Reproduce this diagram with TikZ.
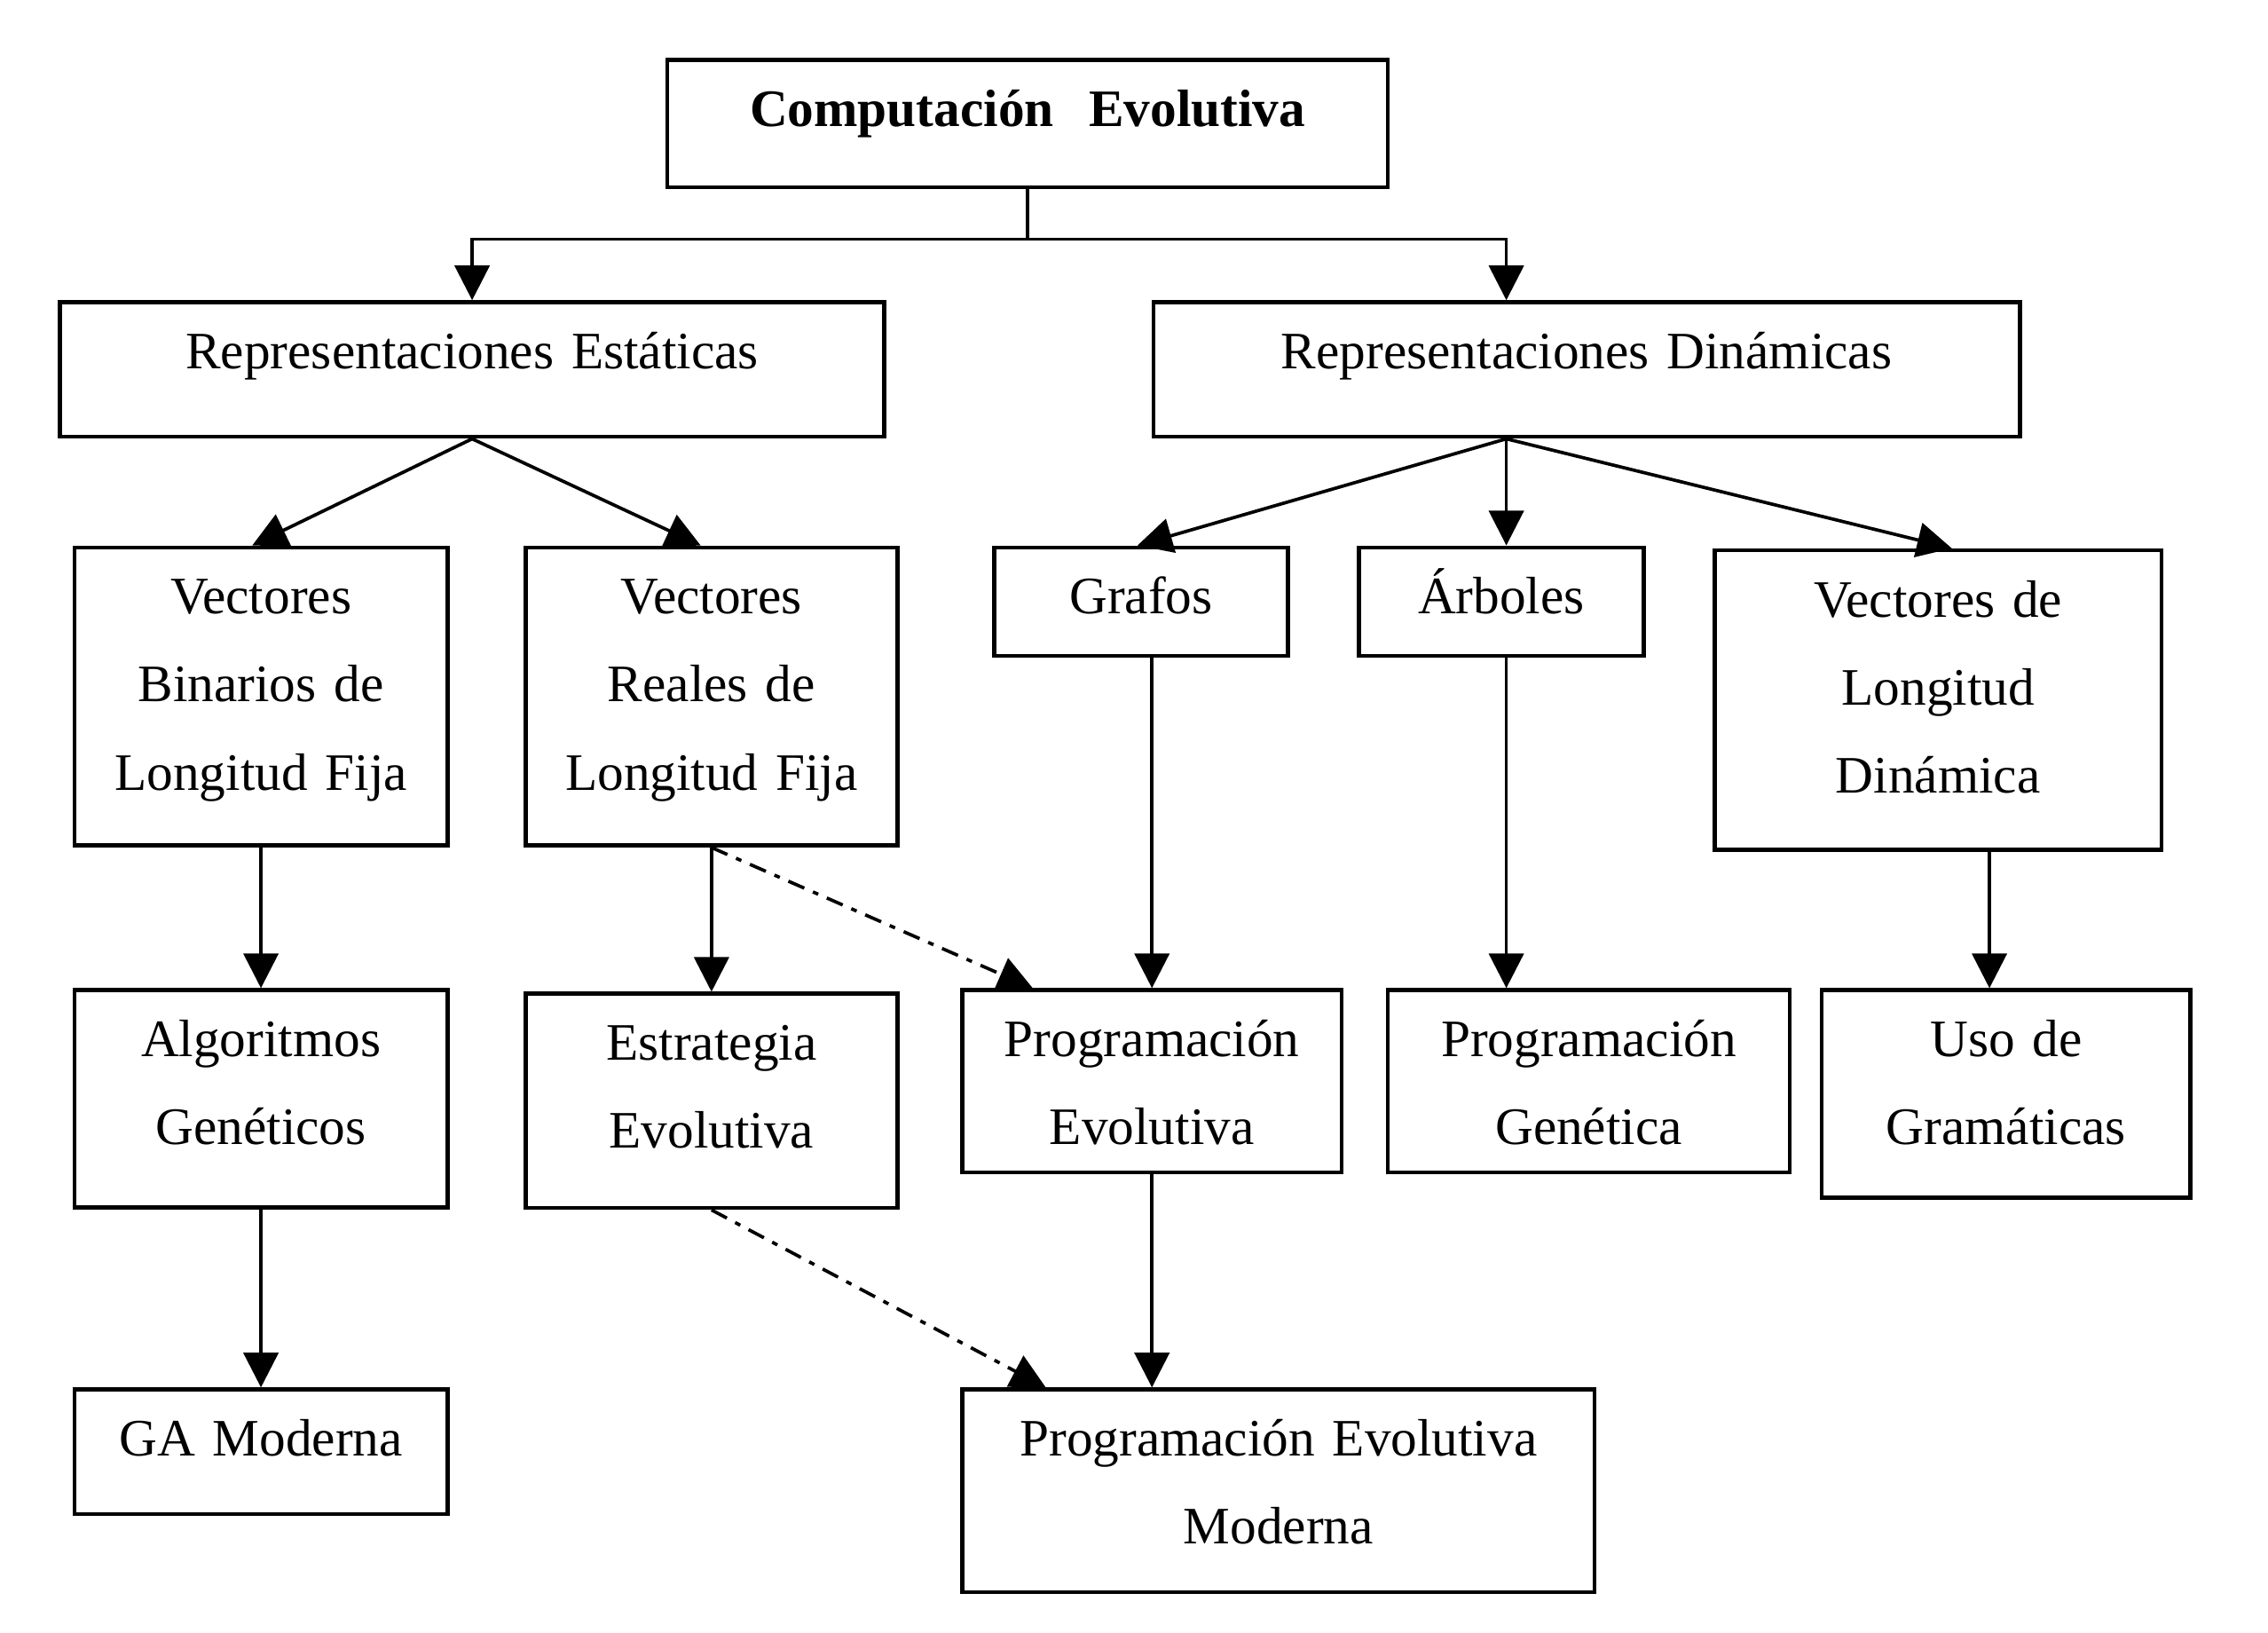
\documentclass[tikz,border=0pt]{standalone}
\usepackage{fontspec}
\setmainfont{Liberation Serif}
\usepackage{tikz}
\usetikzlibrary{arrows.meta}

\tikzset{
  caja/.style={draw, line width=0.8pt, inner sep=0pt, anchor=north west, align=center,
    text height=4.6mm, font=\fontsize{10.35}{17.3}\selectfont},
  flecha/.style={-{Triangle[length=2.4mm,width=2.4mm]}, line width=0.65pt},
  punteada/.style={flecha, dash pattern=on 1.2mm off 0.65mm on 0.4mm off 0.65mm}
}

\begin{document}
\begin{tikzpicture}
        \useasboundingbox (0,0) rectangle (15.68,-11.287);

        % raiz
        \node (ce) [caja, text width=4.98cm, text depth=4.2mm] at (4.60,-0.40) {\textbf{Computación\ \ Evolutiva}};

        % representaciones
        \node (re) [caja, text width=5.70cm, text depth=4.7mm] at (0.40,-2.075) {Representaciones Estáticas};
        \node (rd) [caja, text width=5.99cm, text depth=4.7mm] at (7.96,-2.075) {Representaciones Dinámicas};

        % estructuras
        \node (vb) [caja, text width=2.58cm, text depth=16mm] at (0.50,-3.77) {Vectores\\Binarios de\\Longitud Fija};
        \node (vr) [caja, text width=2.57cm, text depth=16mm] at (3.62,-3.77) {Vectores\\Reales de\\Longitud Fija};
        \node (gr) [caja, text width=2.03cm, text depth=2.9mm] at (6.86,-3.77) {Grafos};
        \node (ar) [caja, text width=1.97cm, text depth=2.9mm] at (9.38,-3.77) {Árboles};
        \node (vl) [caja, text width=3.09cm, text depth=16.1mm] at (11.84,-3.79) {Vectores de\\Longitud\\Dinámica};

        % paradigmas
        \node (ag) [caja, text width=2.58cm, text depth=10.4mm] at (0.50,-6.83) {Algoritmos\\Genéticos};
        \node (ee) [caja, text width=2.57cm, text depth=10.2mm] at (3.62,-6.855) {Estrategia\\Evolutiva};
        \node (pe) [caja, text width=2.62cm, text depth=8mm] at (6.64,-6.83) {Programación\\Evolutiva};
        \node (pg) [caja, text width=2.78cm, text depth=8mm] at (9.58,-6.83) {Programación\\Genética};
        \node (ug) [caja, text width=2.55cm, text depth=9.75mm] at (12.58,-6.83) {Uso de\\Gramáticas};

        % modernos
        \node (gam) [caja, text width=2.58cm, text depth=4mm] at (0.50,-9.59) {GA Moderna};
        \node (pem) [caja, text width=4.37cm, text depth=9.4mm] at (6.64,-9.59) {Programación Evolutiva\\Moderna};

        \draw [flecha] (ce.south) -- ++(0,-0.345) -| (re.north);
        \draw [flecha] (ce.south) -- ++(0,-0.345) -| ([xshift=-5.55mm]rd.north);

        \draw [flecha] (re.south) -- ([xshift=-0.6mm]vb.north);
        \draw [flecha] (re.south) -- ([xshift=-0.75mm]vr.north);

        \coordinate (rdb) at ([xshift=-5.55mm]rd.south);
        \draw [flecha] (rdb) -- ([xshift=-0.25mm]gr.north);
        \draw [flecha] (rdb) -- (rdb |- ar.north);
        \draw [flecha] (rdb) -- ([xshift=0.95mm]vl.north);

        \draw [flecha] (vb) -- (ag);
        \draw [flecha] (vr) -- (ee);
        \draw [flecha] (gr.south -| pe.north) -- (pe.north);
        \draw [flecha] (rdb |- ar.south) -- (rdb |- pg.north);
        \draw [flecha] ([xshift=3.55mm]vl.south) -- ([xshift=3.55mm]vl.south |- ug.north);
        \draw [flecha] (ag) -- (gam);
        \draw [flecha] (pe.south) -- (pe.south |- pem.north);

        \draw [punteada] (vr.south) -- ([xshift=5mm]pe.north west);
        \draw [punteada] (ee.south) -- ([xshift=5.9mm]pem.north west);
    \end{tikzpicture}
\end{document}
